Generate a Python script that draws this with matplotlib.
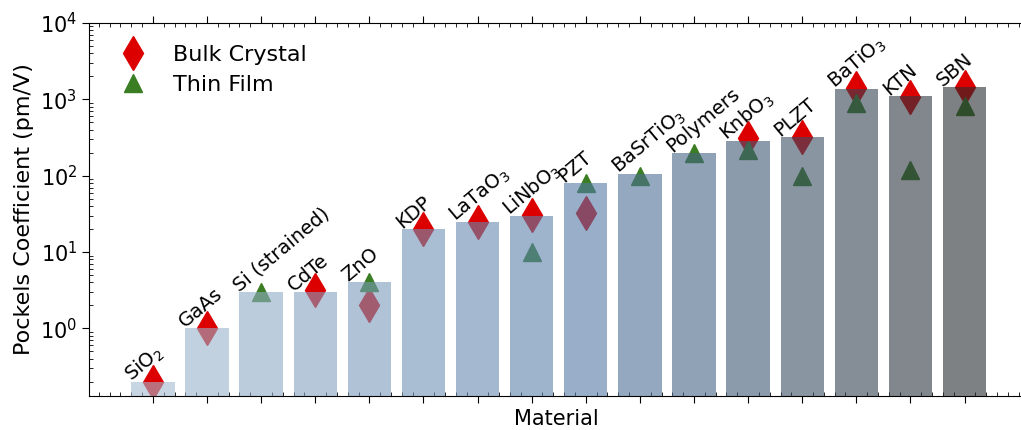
import numpy as np
import matplotlib
matplotlib.use("Agg")
import matplotlib.pyplot as plt
from matplotlib.colors import LinearSegmentedColormap
from matplotlib.ticker import MultipleLocator

# Materials and their Pockels coefficients (pm/V)
materials = ['SiO$_2$', 'GaAs', 'Si (strained)', 'CdTe', 'ZnO', 'KDP', 'LaTaO$_3$',
             'LiNbO$_3$', 'PZT', 'BaSrTiO$_3$', 'Polymers', 'KnbO$_3$', 'PLZT',
             'BaTiO$_3$', 'KTN', 'SBN']
best_value = [0.2, 1.0, 3.0, 3.0, 4.0, 20, 25, 30, 80, 105, 200, 285, 320, 1350, 1100, 1450]
bulk_crystal = [0.2, 1.0, np.nan, 3.15, 2.0, 20, 25, 31, 32, np.nan, np.nan, 310, 320,
                1400, 1070, 1450]
thin_film = [np.nan, np.nan, 3.0, np.nan, 4.0, np.nan, np.nan, 10, 80, 100, 200, 215, 100,
             890, 118, 810]

x = np.arange(len(materials))

fig = plt.figure(figsize=(10.21, 4.30), dpi=100)
ax = fig.add_axes([0.0872, 0.079, 0.9158, 0.8675])

# markers sit underneath the semi-transparent bars
ax.plot(x, bulk_crystal, linestyle='none', marker='d', markersize=17,
        color='#dc0000', label='Bulk Crystal', zorder=1)
ax.plot(x, thin_film, linestyle='none', marker='^', markersize=13.5,
        color='#3a7d22', label='Thin Film', zorder=1)

cmap = LinearSegmentedColormap.from_list(
    'steel', [(0.0, '#a3bbd0'), (0.53, '#537aa7'), (1.0, '#282d30')])
bar_colors = cmap(np.linspace(0, 1, len(materials)))
ax.bar(x, best_value, width=0.8, color=bar_colors, alpha=0.6, zorder=2)

for xi, name, val in zip(x, materials, best_value):
    ax.text(xi - 0.4, val, name, rotation=40, rotation_mode='anchor',
            ha='left', va='baseline', fontsize=14, zorder=3)

ax.set_yscale('log')
ax.set_ylim(0.13, 1e4)
ax.set_xlim(-1.18, 16.1)

ax.set_xticks(x)
ax.set_xticklabels([])
ax.xaxis.set_minor_locator(MultipleLocator(0.2))
ax.tick_params(which='major', direction='out', length=5, top=True, labelsize=15)
ax.tick_params(which='minor', direction='in', length=3, top=True)
ax.spines['right'].set_visible(False)

ax.set_ylabel('Pockels Coefficient (pm/V)', fontsize=16)
ax.set_xlabel('Material', fontsize=15, labelpad=1)

ax.legend(loc='upper left', frameon=False, fontsize=16, handletextpad=0.8,
          borderaxespad=0.6, labelspacing=0.45)

fig.savefig('out.png', dpi=100)
